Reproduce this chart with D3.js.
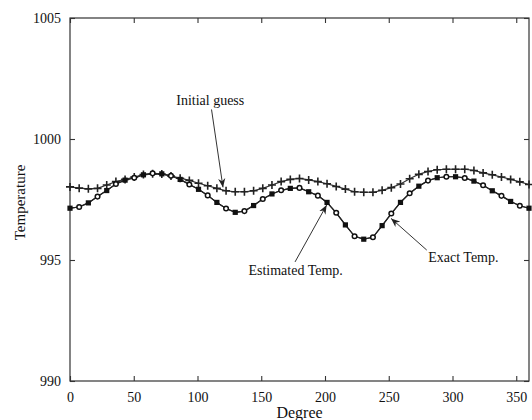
<!DOCTYPE html>
<html>
<head>
<meta charset="utf-8">
<script src="https://cdn.jsdelivr.net/npm/d3@7"></script>
<style>
  html, body { margin: 0; padding: 0; background: #fff; }
  svg { display: block; }
  text { font-family: "Liberation Serif", "Times New Roman", serif; fill: #111; }
</style>
</head>
<body>
<svg id="chart" width="532" height="420"></svg>
<script>
// ---- data ----
const degrees = [0, 7.2, 14.4, 21.6, 28.8, 36, 43.2, 50.4, 57.6, 64.8, 72, 79.2, 86.4, 93.6, 100.8,
  108, 115.2, 122.4, 129.6, 136.8, 144, 151.2, 158.4, 165.6, 172.8, 180, 187.2, 194.4, 201.6, 208.8,
  216, 223.2, 230.4, 237.6, 244.8, 252, 259.2, 266.4, 273.6, 280.8, 288, 295.2, 302.4, 309.6, 316.8,
  324, 331.2, 338.4, 345.6, 352.8, 360];

const initialGuess = [998.02, 997.97, 997.94, 997.96, 998.10, 998.24, 998.33, 998.43, 998.53, 998.56,
  998.55, 998.47, 998.38, 998.29, 998.17, 998.07, 997.96, 997.86, 997.82, 997.82, 997.86, 997.96,
  998.10, 998.24, 998.33, 998.37, 998.31, 998.24, 998.15, 998.04, 997.93, 997.82, 997.80, 997.80,
  997.88, 997.99, 998.14, 998.36, 998.54, 998.66, 998.73, 998.75, 998.75, 998.75, 998.70, 998.60,
  998.52, 998.43, 998.33, 998.23, 998.12];

const exactTemp = [997.14, 997.19, 997.36, 997.62, 997.87, 998.14, 998.30, 998.40, 998.52, 998.58,
  998.56, 998.48, 998.33, 998.12, 997.92, 997.67, 997.38, 997.13, 996.97, 997.02, 997.25, 997.52,
  997.73, 997.88, 997.96, 997.98, 997.82, 997.66, 997.38, 996.95, 996.45, 995.98, 995.86, 995.94,
  996.42, 996.92, 997.38, 997.76, 998.05, 998.28, 998.40, 998.44, 998.44, 998.39, 998.26, 998.09,
  997.86, 997.65, 997.42, 997.24, 997.14];

const estimatedTemp = [997.14, 997.19, 997.36, 997.62, 997.87, 998.14, 998.30, 998.40, 998.52, 998.58,
  998.56, 998.48, 998.33, 998.12, 997.92, 997.67, 997.38, 997.13, 996.97, 997.02, 997.25, 997.52,
  997.73, 997.88, 997.96, 997.98, 997.82, 997.66, 997.38, 996.95, 996.45, 995.98, 995.86, 995.94,
  996.42, 996.92, 997.38, 997.76, 998.05, 998.28, 998.40, 998.44, 998.44, 998.39, 998.26, 998.09,
  997.86, 997.65, 997.42, 997.24, 997.14];

const xTicks = [0, 50, 100, 150, 200, 250, 300, 350];
const yTicks = [990, 995, 1000, 1005];
const xLabel = "Degree";
const yLabel = "Temperature";

// annotations: text anchor point and arrow (data units)
const annotations = [
  { text: "Initial guess",   tx: 110.0, ty: 1001.42, fromX: 111.0, fromY: 1001.22, toX: 120.0, toY: 998.0 },
  { text: "Estimated Temp.", tx: 177.0, ty: 994.40,  fromX: 176.5, fromY: 994.92,  toX: 201.3, toY: 997.27 },
  { text: "Exact Temp.",     tx: 308.5, ty: 994.92,  fromX: 279.8, fromY: 995.41,  toX: 251.8, toY: 996.72 }
];

// ---- layout ----
const W = 532, H = 420;
const m = { left: 70, right: 3, top: 18, bottom: 39 };
const svg = d3.select("#chart");

const x = d3.scaleLinear().domain([0, 360]).range([m.left, W - m.right]);
const y = d3.scaleLinear().domain([990, 1005]).range([H - m.bottom, m.top]);

const axisColor = "#333";
const tickLen = 5;

// frame
svg.append("rect")
  .attr("x", x(0)).attr("y", y(1005))
  .attr("width", x(360) - x(0)).attr("height", y(990) - y(1005))
  .attr("fill", "none").attr("stroke", axisColor).attr("stroke-width", 1.2);

// bottom axis
const gx = svg.append("g").attr("transform", `translate(0,${y(990)})`)
  .call(d3.axisBottom(x).tickValues(xTicks).tickSize(-tickLen).tickPadding(tickLen + 6).tickFormat(d3.format("d")));
// top ticks
const gxt = svg.append("g").attr("transform", `translate(0,${y(1005)})`)
  .call(d3.axisTop(x).tickValues(xTicks).tickSize(-tickLen).tickFormat(""));
// left axis
const gy = svg.append("g").attr("transform", `translate(${x(0)},0)`)
  .call(d3.axisLeft(y).tickValues(yTicks).tickSize(-tickLen).tickPadding(tickLen + 4).tickFormat(d3.format("d")));
// right ticks
const gyr = svg.append("g").attr("transform", `translate(${x(360)},0)`)
  .call(d3.axisRight(y).tickValues(yTicks).tickSize(-tickLen).tickFormat(""));

[gx, gxt, gy, gyr].forEach(g => {
  g.select(".domain").remove();
  g.selectAll(".tick line").attr("stroke", axisColor).attr("stroke-width", 1.1);
  g.selectAll(".tick text").style("font-family", '"Liberation Serif", serif')
    .style("font-size", "14px").attr("fill", "#111");
});

// axis labels
svg.append("text").attr("x", (x(0) + x(360)) / 2).attr("y", H - 2)
  .attr("text-anchor", "middle").style("font-size", "16px").text(xLabel);
svg.append("text")
  .attr("transform", `translate(25,${(y(990) + y(1005)) / 2 + 3}) rotate(-90)`)
  .attr("text-anchor", "middle").style("font-size", "15px").attr("fill", "#333").text(yLabel);

// ---- series ----
const line = d3.line().x(d => x(d[0])).y(d => y(d[1]));
const ig = degrees.map((d, i) => [d, initialGuess[i]]);
const ex = degrees.map((d, i) => [d, exactTemp[i]]);
const es = degrees.map((d, i) => [d, estimatedTemp[i]]);

svg.append("path").datum(ex).attr("d", line).attr("fill", "none").attr("stroke", "#222").attr("stroke-width", 1.2);
svg.append("path").datum(es).attr("d", line).attr("fill", "none").attr("stroke", "#222").attr("stroke-width", 1.2);
svg.append("path").datum(ig).attr("d", line).attr("fill", "none").attr("stroke", "#333").attr("stroke-width", 1.2);

// plus markers
const ps = 4;
svg.append("g").selectAll("path").data(ig).join("path")
  .attr("d", d => `M${x(d[0]) - ps},${y(d[1])}H${x(d[0]) + ps}M${x(d[0])},${y(d[1]) - ps}V${y(d[1]) + ps}`)
  .attr("stroke", "#222").attr("stroke-width", 1.6).attr("fill", "none");

// exact: open circles (odd indices)
svg.append("g").selectAll("circle").data(ex.filter((d, i) => i % 2 === 1)).join("circle")
  .attr("cx", d => x(d[0])).attr("cy", d => y(d[1])).attr("r", 2.3)
  .attr("fill", "#fff").attr("stroke", "#111").attr("stroke-width", 1.5);

// estimated: filled squares (even indices)
const sq = 5.2;
svg.append("g").selectAll("rect").data(es.filter((d, i) => i % 2 === 0)).join("rect")
  .attr("x", d => x(d[0]) - sq / 2).attr("y", d => y(d[1]) - sq / 2)
  .attr("width", sq).attr("height", sq).attr("fill", "#111");

// ---- annotations ----
const defs = svg.append("defs");
defs.append("marker").attr("id", "arr").attr("viewBox", "0 0 10 10")
  .attr("refX", 10).attr("refY", 5).attr("markerWidth", 9).attr("markerHeight", 9)
  .attr("markerUnits", "userSpaceOnUse").attr("orient", "auto")
  .append("path").attr("d", "M0,1 L10,5 L0,9 L3,5 Z").attr("fill", "#222");

annotations.forEach(a => {
  svg.append("line")
    .attr("x1", x(a.fromX)).attr("y1", y(a.fromY))
    .attr("x2", x(a.toX)).attr("y2", y(a.toY))
    .attr("stroke", "#333").attr("stroke-width", 1).attr("marker-end", "url(#arr)");
  svg.append("text").attr("x", x(a.tx)).attr("y", y(a.ty))
    .attr("text-anchor", "middle").style("font-size", "14px").text(a.text);
});
</script>
</body>
</html>
